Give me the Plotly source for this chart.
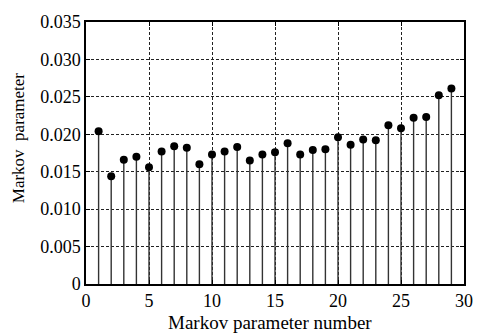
import plotly.graph_objects as go

param_number = list(range(1, 30))
markov_param = [0.0204, 0.0144, 0.0166, 0.0170, 0.0156, 0.0177, 0.0184, 0.0182, 0.0160, 0.0173,
                0.0177, 0.0183, 0.0165, 0.0173, 0.0176, 0.0188, 0.0173, 0.0179, 0.0180, 0.0196,
                0.0186, 0.0193, 0.0192, 0.0212, 0.0208, 0.0222, 0.0223, 0.0252, 0.0261]

x_ticks = [0, 5, 10, 15, 20, 25, 30]
y_ticks = [0, 0.005, 0.010, 0.015, 0.020, 0.025, 0.030, 0.035]
y_tick_labels = ["0", "0.005", "0.010", "0.015", "0.020", "0.025", "0.030", "0.035"]
x_title = "Markov parameter number"
y_title = "Markov  parameter"

stem_x, stem_y = [], []
for xv, yv in zip(param_number, markov_param):
    stem_x += [xv, xv, None]
    stem_y += [0, yv, None]

font_fam = "Liberation Serif"

fig = go.Figure()
fig.add_trace(go.Scatter(x=stem_x, y=stem_y, mode="lines",
                         line=dict(color="#333333", width=1.4), hoverinfo="skip"))
fig.add_trace(go.Scatter(x=param_number, y=markov_param, mode="markers",
                         marker=dict(color="black", size=8)))

axis_common = dict(showline=True, linecolor="black", linewidth=1.5, mirror="allticks",
                   showgrid=True, gridcolor="#222222", gridwidth=1, griddash="3px,2px",
                   zeroline=False, ticks="inside", ticklen=4, tickwidth=1.2, tickcolor="black",
                   tickfont=dict(family=font_fam, size=18, color="black"))

fig.update_layout(
    width=485, height=335,
    margin=dict(l=86, r=16, t=15, b=51),
    paper_bgcolor="white", plot_bgcolor="white",
    font=dict(family=font_fam, size=18, color="black"),
    showlegend=False,
    xaxis=dict(range=[0, 30], tickvals=x_ticks, ticktext=[str(t) for t in x_ticks], **axis_common),
    yaxis=dict(range=[0, 0.035], tickvals=y_ticks, ticktext=y_tick_labels, **axis_common),
    annotations=[
        dict(text=x_title, xref="paper", yref="paper", x=0.486, y=-0.147,
             xanchor="center", yanchor="middle", showarrow=False,
             font=dict(family=font_fam, size=19, color="black")),
        dict(text=y_title, xref="paper", yref="paper", x=-0.180, y=0.56,
             xanchor="center", yanchor="middle", showarrow=False, textangle=-90,
             font=dict(family=font_fam, size=17, color="black")),
    ],
)

fig.write_html("out.html")
